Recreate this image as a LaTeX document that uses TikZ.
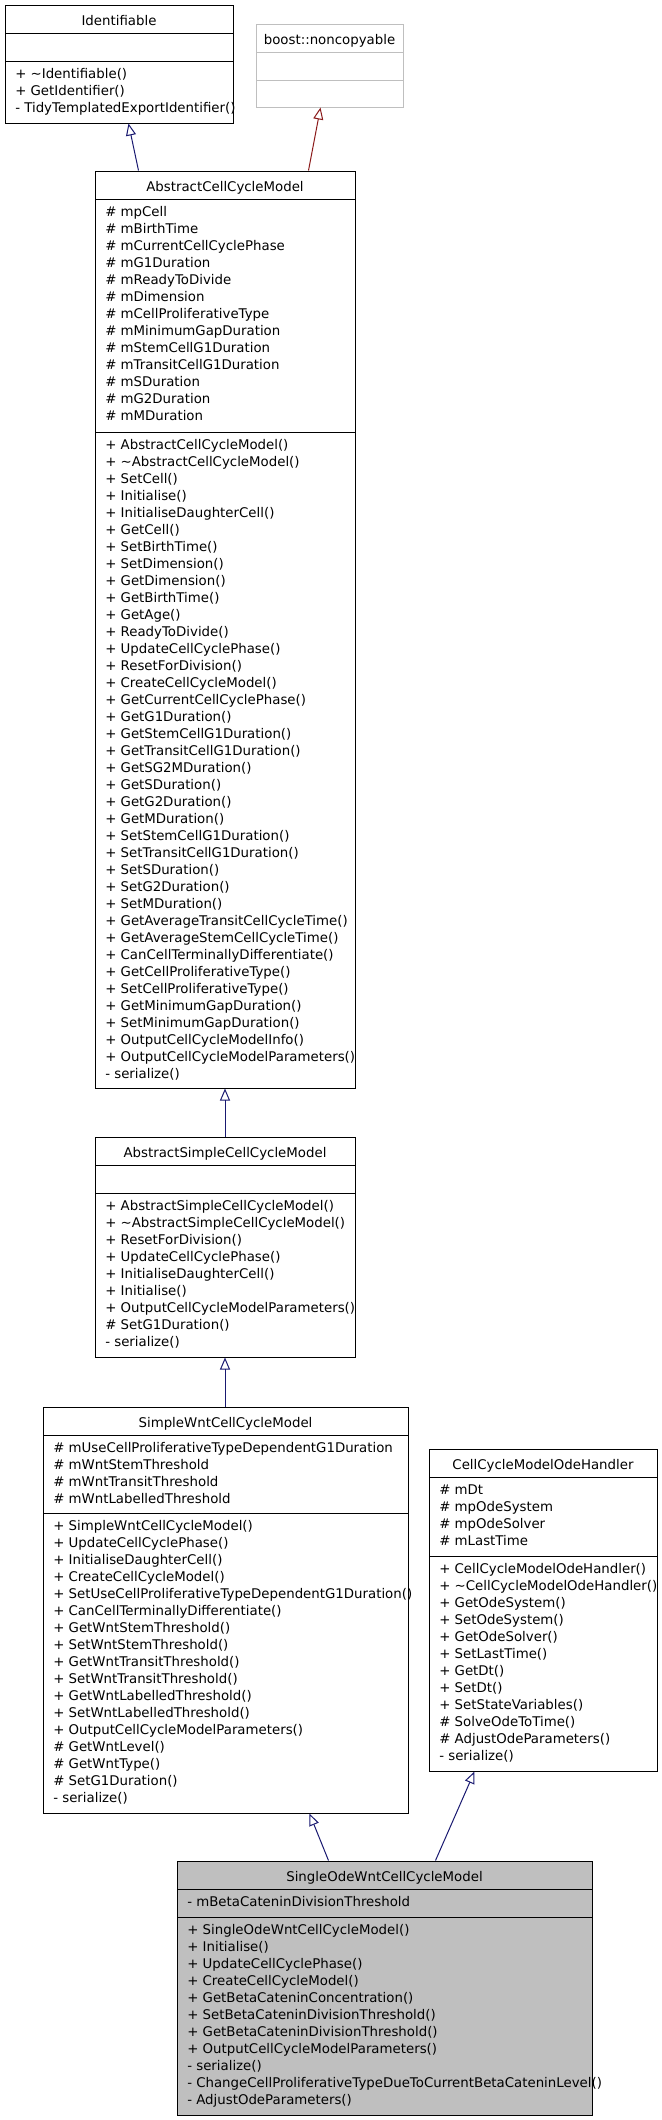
\documentclass[tikz,border=0pt]{standalone}
\usepackage{fontspec}
\setmainfont{DejaVu Sans}
\usetikzlibrary{arrows.meta,calc,fit}
\definecolor{pubblue}{RGB}{25,25,112}
\definecolor{privred}{RGB}{139,26,26}
\definecolor{boxgray}{RGB}{191,191,191}

\begin{document}
\begin{tikzpicture}[x=0.75pt,y=0.75pt,yscale=-1,xscale=1,
  font=\fontsize{10}{12.75}\selectfont,
  classbox/.style={draw=black, line width=0.75pt, inner sep=0pt},
  classname/.style={anchor=base, inner sep=0pt},
  members/.style={anchor=north west, inner sep=0pt, align=left},
  pubinh/.style={draw=pubblue, line width=0.75pt, -{Triangle[open,length=9pt,width=7.5pt]}},
  privinh/.style={pubinh, draw=privred}]
\useasboundingbox (0,0) rectangle (661,2120);

%Shape: Rectangle [Identifiable]
\node [classbox, fit={(5,5) (233,123)}] (ident) {};
\draw [line width=0.75pt] (5,33) -- (233,33) ;
\draw [line width=0.75pt] (5,61) -- (233,61) ;
% Text Node
\node [classname] (identname) at (119,25) {Identifiable};
% Text Node
\node [members] (identops) at (15,68) {+ \textasciitilde Identifiable()\\+ GetIdentifier()\\- TidyTemplatedExportIdentifier()};

%Shape: Rectangle [boost::noncopyable]
\node [classbox, draw=boxgray, fit={(256,24) (403,107)}] (noncopy) {};
\draw [boxgray, line width=0.75pt] (256,52) -- (403,52) ;
\draw [boxgray, line width=0.75pt] (256,80) -- (403,80) ;
% Text Node
\node [classname] (noncopyname) at (329.5,44) {boost::noncopyable};

%Shape: Rectangle [AbstractCellCycleModel]
\node [classbox, fit={(95,171) (355,1088)}] (acm) {};
\draw [line width=0.75pt] (95,199) -- (355,199) ;
\draw [line width=0.75pt] (95,432) -- (355,432) ;
% Text Node
\node [classname] (acmname) at (225,191) {AbstractCellCycleModel};
% Text Node
\node [members] (acmattrs) at (105,206) {\# mpCell\\\# mBirthTime\\\# mCurrentCellCyclePhase\\\# mG1Duration\\\# mReadyToDivide\\\# mDimension\\\# mCellProliferativeType\\\# mMinimumGapDuration\\\# mStemCellG1Duration\\\# mTransitCellG1Duration\\\# mSDuration\\\# mG2Duration\\\# mMDuration};
% Text Node
\node [members] (acmops) at (105,439) {+ AbstractCellCycleModel()\\+ \textasciitilde AbstractCellCycleModel()\\+ SetCell()\\+ Initialise()\\+ InitialiseDaughterCell()\\+ GetCell()\\+ SetBirthTime()\\+ SetDimension()\\+ GetDimension()\\+ GetBirthTime()\\+ GetAge()\\+ ReadyToDivide()\\+ UpdateCellCyclePhase()\\+ ResetForDivision()\\+ CreateCellCycleModel()\\+ GetCurrentCellCyclePhase()\\+ GetG1Duration()\\+ GetStemCellG1Duration()\\+ GetTransitCellG1Duration()\\+ GetSG2MDuration()\\+ GetSDuration()\\+ GetG2Duration()\\+ GetMDuration()\\+ SetStemCellG1Duration()\\+ SetTransitCellG1Duration()\\+ SetSDuration()\\+ SetG2Duration()\\+ SetMDuration()\\+ GetAverageTransitCellCycleTime()\\+ GetAverageStemCellCycleTime()\\+ CanCellTerminallyDifferentiate()\\+ GetCellProliferativeType()\\+ SetCellProliferativeType()\\+ GetMinimumGapDuration()\\+ SetMinimumGapDuration()\\+ OutputCellCycleModelInfo()\\+ OutputCellCycleModelParameters()\\- serialize()};

%Shape: Rectangle [AbstractSimpleCellCycleModel]
\node [classbox, fit={(95,1137) (355,1357)}] (ascm) {};
\draw [line width=0.75pt] (95,1165) -- (355,1165) ;
\draw [line width=0.75pt] (95,1193) -- (355,1193) ;
% Text Node
\node [classname] (ascmname) at (225,1157) {AbstractSimpleCellCycleModel};
% Text Node
\node [members] (ascmops) at (105,1200) {+ AbstractSimpleCellCycleModel()\\+ \textasciitilde AbstractSimpleCellCycleModel()\\+ ResetForDivision()\\+ UpdateCellCyclePhase()\\+ InitialiseDaughterCell()\\+ Initialise()\\+ OutputCellCycleModelParameters()\\\# SetG1Duration()\\- serialize()};

%Shape: Rectangle [SimpleWntCellCycleModel]
\node [classbox, fit={(43,1407) (408,1813)}] (swnt) {};
\draw [line width=0.75pt] (43,1435) -- (408,1435) ;
\draw [line width=0.75pt] (43,1513) -- (408,1513) ;
% Text Node
\node [classname] (swntname) at (225.5,1427) {SimpleWntCellCycleModel};
% Text Node
\node [members] (swntattrs) at (53,1442) {\# mUseCellProliferativeTypeDependentG1Duration\\\# mWntStemThreshold\\\# mWntTransitThreshold\\\# mWntLabelledThreshold};
% Text Node
\node [members] (swntops) at (53,1520) {+ SimpleWntCellCycleModel()\\+ UpdateCellCyclePhase()\\+ InitialiseDaughterCell()\\+ CreateCellCycleModel()\\+ SetUseCellProliferativeTypeDependentG1Duration()\\+ CanCellTerminallyDifferentiate()\\+ GetWntStemThreshold()\\+ SetWntStemThreshold()\\+ GetWntTransitThreshold()\\+ SetWntTransitThreshold()\\+ GetWntLabelledThreshold()\\+ SetWntLabelledThreshold()\\+ OutputCellCycleModelParameters()\\\# GetWntLevel()\\\# GetWntType()\\\# SetG1Duration()\\- serialize()};

%Shape: Rectangle [CellCycleModelOdeHandler]
\node [classbox, fit={(429,1449) (657,1771)}] (odeh) {};
\draw [line width=0.75pt] (429,1477) -- (657,1477) ;
\draw [line width=0.75pt] (429,1556) -- (657,1556) ;
% Text Node
\node [classname] (odehname) at (543,1469) {CellCycleModelOdeHandler};
% Text Node
\node [members] (odehattrs) at (439,1484) {\# mDt\\\# mpOdeSystem\\\# mpOdeSolver\\\# mLastTime};
% Text Node
\node [members] (odehops) at (439,1563) {+ CellCycleModelOdeHandler()\\+ \textasciitilde CellCycleModelOdeHandler()\\+ GetOdeSystem()\\+ SetOdeSystem()\\+ GetOdeSolver()\\+ SetLastTime()\\+ GetDt()\\+ SetDt()\\+ SetStateVariables()\\\# SolveOdeToTime()\\\# AdjustOdeParameters()\\- serialize()};

%Shape: Rectangle [SingleOdeWntCellCycleModel]
\node [classbox, fill=boxgray, fit={(177,1861) (592,2115)}] (sowcm) {};
\draw [line width=0.75pt] (177,1889) -- (592,1889) ;
\draw [line width=0.75pt] (177,1917) -- (592,1917) ;
% Text Node
\node [classname] (sowcmname) at (384.5,1881) {SingleOdeWntCellCycleModel};
% Text Node
\node [members] (sowcmattrs) at (187,1896) {- mBetaCateninDivisionThreshold};
% Text Node
\node [members] (sowcmops) at (187,1924) {+ SingleOdeWntCellCycleModel()\\+ Initialise()\\+ UpdateCellCyclePhase()\\+ CreateCellCycleModel()\\+ GetBetaCateninConcentration()\\+ SetBetaCateninDivisionThreshold()\\+ GetBetaCateninDivisionThreshold()\\+ OutputCellCycleModelParameters()\\- serialize()\\- ChangeCellProliferativeTypeDueToCurrentBetaCateninLevel()\\- AdjustOdeParameters()};

%Straight Lines [inheritance]
\draw [pubinh] ($(acm.north west)+(44,0)$) -- ($(ident.south west)+(124,0)$) ;
\draw [privinh] ($(acm.north west)+(214,0)$) -- ($(noncopy.south west)+(65,0)$) ;
\draw [pubinh] (ascm.north) -- (acm.south) ;
\draw [pubinh] (swnt.north -| ascm.north) -- (ascm.south) ;
\draw [pubinh] ($(sowcm.north west)+(152,0)$) -- ($(swnt.south west)+(267,0)$) ;
\draw [pubinh] ($(sowcm.north west)+(259,0)$) -- ($(odeh.south west)+(46,0)$) ;

\end{tikzpicture}
\end{document}
